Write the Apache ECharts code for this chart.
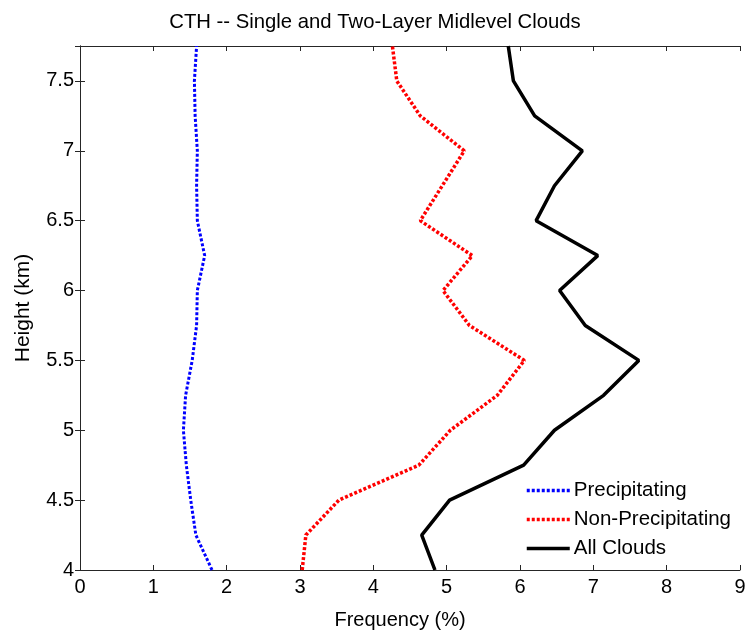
<!DOCTYPE html>
<html><head><meta charset="utf-8">
<script src="https://cdn.jsdelivr.net/npm/echarts@6/dist/echarts.min.js"></script>
<style>html,body{margin:0;padding:0;background:#fff}#c{width:750px;height:636px}</style>
</head><body><div id="c"></div>
<script>
const heights = [4.0,4.25,4.5,4.75,5.0,5.25,5.5,5.75,6.0,6.25,6.5,6.75,7.0,7.25,7.5,7.75];
const precipitating = [1.80,1.58,1.51,1.45,1.41,1.44,1.53,1.59,1.60,1.70,1.60,1.59,1.60,1.57,1.56,1.59];
const nonPrecipitating = [3.03,3.08,3.53,4.62,5.05,5.69,6.06,5.31,4.95,5.35,4.64,4.94,5.24,4.64,4.32,4.26];
const allClouds = [4.84,4.66,5.04,6.05,6.47,7.14,7.62,6.89,6.54,7.06,6.22,6.47,6.85,6.20,5.91,5.84];
const seriesNames = ['Precipitating','Non-Precipitating','All Clouds'];

const font = 'Liberation Sans, Arial, Helvetica, sans-serif';
const pair = v => v.map((x,i)=>[x,heights[i]]);
const frameAxis = (extra) => Object.assign({
  type:'value', axisLine:{show:true,lineStyle:{color:'#262626',width:1}},
  axisTick:{show:true,inside:true,length:5,lineStyle:{color:'#262626'}},
  splitLine:{show:false}
}, extra);

const chart = echarts.init(document.getElementById('c'));
chart.setOption({
  animation:false,
  backgroundColor:'#fff',
  title:{text:'CTH -- Single and Two-Layer Midlevel Clouds',left:'center',top:7,
    textStyle:{fontFamily:font,fontSize:20.3,fontWeight:'normal',color:'#000'}},
  grid:{left:80,right:10,top:46,bottom:66},
  xAxis:[
    frameAxis({min:0,max:9,interval:1,position:'bottom',name:'Frequency (%)',nameLocation:'middle',nameGap:40,
      nameTextStyle:{fontFamily:font,fontSize:20,color:'#000',padding:[0,20,0,0]},
      axisLabel:{fontFamily:font,fontSize:20,color:'#000',margin:7}}),
    frameAxis({min:0,max:9,interval:1,position:'top',axisLabel:{show:false}})
  ],
  yAxis:[
    frameAxis({min:4,max:7.75,interval:0.5,position:'left',name:'Height (km)',nameLocation:'middle',nameGap:46,
      nameTextStyle:{fontFamily:font,fontSize:21,color:'#000'},
      axisLabel:{fontFamily:font,fontSize:20,color:'#000',margin:6,showMaxLabel:false,
        formatter:v=> (Math.abs(v-7.75)<1e-6?'':String(v))}}),
    frameAxis({min:4,max:7.75,interval:0.5,position:'right',axisLabel:{show:false}})
  ],
  legend:{right:19,bottom:77,padding:0,orient:'vertical',itemWidth:43,itemHeight:14,itemGap:8,
    itemStyle:{opacity:0,borderWidth:0},
    lineStyle:{width:3.5},
    textStyle:{fontFamily:font,fontSize:20.5,color:'#000',padding:[0,0,0,-1]},
    data:seriesNames},
  series:[
    {name:seriesNames[0],type:'line',data:pair(precipitating),symbol:'none',
      lineStyle:{color:'#0000ff',width:3,type:[3,2],cap:'butt'},itemStyle:{color:'#0000ff'}},
    {name:seriesNames[1],type:'line',data:pair(nonPrecipitating),symbol:'none',
      lineStyle:{color:'#ff0000',width:3.5,type:[3,2],cap:'butt'},itemStyle:{color:'#ff0000'}},
    {name:seriesNames[2],type:'line',data:pair(allClouds),symbol:'none',
      lineStyle:{color:'#000000',width:3.5,type:'solid'},itemStyle:{color:'#000'}}
  ]
});
</script></body></html>
